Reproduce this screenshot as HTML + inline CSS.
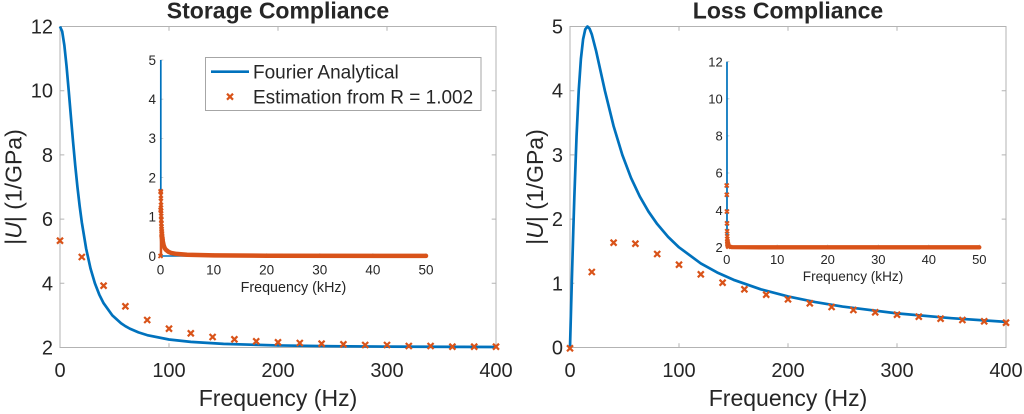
<!DOCTYPE html>
<html>
<head>
<meta charset="utf-8">
<style>
  html,body{margin:0;padding:0;background:#fff;}
  svg{display:block;}
  text{font-family:"Liberation Sans",Arial,sans-serif;fill:#262626;}
</style>
</head>
<body>
<svg width="1024" height="414" viewBox="0 0 1024 414" xmlns="http://www.w3.org/2000/svg">
  <rect x="0" y="0" width="1024" height="414" fill="#fff"/>

  <!-- ================= LEFT PLOT ================= -->
  <g fill="none" stroke="#b3b3b3" stroke-width="1">
    <rect x="60" y="26.5" width="436" height="321"/>
    <path d="M169,347.5V343.2M278,347.5V343.2M387,347.5V343.2M169,26.5V30.8M278,26.5V30.8M387,26.5V30.8
             M60,90.7H64.3M60,154.9H64.3M60,219.1H64.3M60,283.3H64.3
             M496,90.7H491.7M496,154.9H491.7M496,219.1H491.7M496,283.3H491.7"/>
  </g>

  <!-- left inset axes -->
  <g fill="none" stroke="#c0c0c0" stroke-width="0.8">
    <path d="M160.5,60V256H426"/>
    <path d="M160.5,99.2H163.3M160.5,138.4H163.3M160.5,177.6H163.3M160.5,216.8H163.3M160.5,60H163.3
             M213.6,256V253.2M266.7,256V253.2M319.8,256V253.2M372.9,256V253.2M426,256V253.2"/>
  </g>
  <g font-size="13.5" text-anchor="end">
    <text x="156" y="64.8">5</text>
    <text x="156" y="104">4</text>
    <text x="156" y="143.2">3</text>
    <text x="156" y="182.4">2</text>
    <text x="156" y="221.6">1</text>
    <text x="156" y="260.8">0</text>
  </g>
  <g font-size="13.5" text-anchor="middle">
    <text x="160.5" y="274.5">0</text>
    <text x="213.6" y="274.5">10</text>
    <text x="266.7" y="274.5">20</text>
    <text x="319.8" y="274.5">30</text>
    <text x="372.9" y="274.5">40</text>
    <text x="426" y="274.5">50</text>
  </g>
  <text x="293.5" y="292" font-size="14.3" text-anchor="middle">Frequency (kHz)</text>
  <!-- left inset series -->
  <path d="M160.8,256V60" stroke="#0072BD" stroke-width="1.7" fill="none"/>
  <path d="M160.8,256H426" stroke="#0072BD" stroke-width="1.5" fill="none"/>
  <path d="M161,256V192" stroke="#D95319" stroke-width="2.5" fill="none"/>
  <polyline fill="none" stroke="#D95319" stroke-width="4.5" stroke-linejoin="round" stroke-linecap="round"
    points="161.5,236 162.6,240.3 163.7,245.5 164.75,248.2 165.8,249.7 168.5,251.8 171.1,252.9 176.4,253.9 187.1,254.7 213.6,255.4 266.7,255.7 426,255.9"/>
  <g stroke="#D95319" stroke-width="1.8" fill="none">
    <path d="M158.5,254l4,4m0,-4l-4,4
             M158.6,207.7l4,4m0,-4l-4,4
             M158.7,189.3l4,4m0,-4l-4,4
             M158.8,190.1l4,4m0,-4l-4,4
             M158.9,196.4l4,4m0,-4l-4,4
             M159,203l4,4m0,-4l-4,4
             M159.1,208.9l4,4m0,-4l-4,4
             M159.2,214l4,4m0,-4l-4,4
             M159.3,217.9l4,4m0,-4l-4,4
             M159.4,221.5l4,4m0,-4l-4,4
             M159.5,224.6l4,4m0,-4l-4,4
             M159.6,227l4,4m0,-4l-4,4
             M159.7,229.3l4,4m0,-4l-4,4
             M159.8,231.3l4,4m0,-4l-4,4
             M159.9,232.4l4,4m0,-4l-4,4
             M160,234l4,4m0,-4l-4,4
             M160.1,235.2l4,4m0,-4l-4,4
             M160.2,236.4l4,4m0,-4l-4,4
             M160.3,237.1l4,4m0,-4l-4,4
             M160.4,237.9l4,4m0,-4l-4,4
             M160.5,238.7l4,4m0,-4l-4,4"/>
  </g>

  <!-- left main series -->
  <polyline fill="none" stroke="#0072BD" stroke-width="2.7" stroke-linejoin="round"
    points="60,26.5 62.18,31.44 64.36,45.38 66.54,66.08 68.72,90.7 70.9,116.67 73.08,142.06 75.26,165.69 77.44,187 79.62,205.82 81.8,222.23 86.16,248.73 90.52,268.48 94.88,283.3 99.24,294.55 103.6,303.22 112.32,315.4 121.04,323.27 125.4,326.19 129.76,328.62 138.48,332.39 147.2,335.15 169,339.49 190.8,341.89 223.5,343.89 278,345.46 332.5,346.19 387,346.59 496,346.99"/>
  <g stroke="#D95319" stroke-width="2.2" fill="none">
    <path d="M57,237.7l6,6m0,-6l-6,6
             M78.8,254l6,6m0,-6l-6,6
             M100.6,282.7l6,6m0,-6l-6,6
             M122.4,303.3l6,6m0,-6l-6,6
             M144.2,317l6,6m0,-6l-6,6
             M166,325.7l6,6m0,-6l-6,6
             M187.8,330.3l6,6m0,-6l-6,6
             M209.6,334l6,6m0,-6l-6,6
             M231.4,336.3l6,6m0,-6l-6,6
             M253.2,338.3l6,6m0,-6l-6,6
             M275,339.3l6,6m0,-6l-6,6
             M296.8,340l6,6m0,-6l-6,6
             M318.6,340.7l6,6m0,-6l-6,6
             M340.4,341.3l6,6m0,-6l-6,6
             M362.2,342l6,6m0,-6l-6,6
             M384,342l6,6m0,-6l-6,6
             M405.8,343l6,6m0,-6l-6,6
             M427.6,343l6,6m0,-6l-6,6
             M449.4,343.7l6,6m0,-6l-6,6
             M471.2,343.7l6,6m0,-6l-6,6
             M493,343.7l6,6m0,-6l-6,6"/>
  </g>

  <!-- legend -->
  <rect x="205.5" y="57.5" width="275.5" height="53" fill="#fff" stroke="#a6a6a6" stroke-width="1"/>
  <path d="M211,71.7H249" stroke="#0072BD" stroke-width="2.7"/>
  <path d="M227,93.7l6,6m0,-6l-6,6" stroke="#D95319" stroke-width="2.2" fill="none"/>
  <text x="253" y="78.6" font-size="19">Fourier Analytical</text>
  <text x="253" y="103.6" font-size="19">Estimation from R = 1.002</text>

  <!-- left tick labels -->
  <g font-size="20" text-anchor="end">
    <text x="53" y="33.5">12</text>
    <text x="53" y="97.7">10</text>
    <text x="53" y="161.9">8</text>
    <text x="53" y="226.1">6</text>
    <text x="53" y="290.3">4</text>
    <text x="53" y="354.5">2</text>
  </g>
  <g font-size="20" text-anchor="middle">
    <text x="60" y="377">0</text>
    <text x="169" y="377">100</text>
    <text x="278" y="377">200</text>
    <text x="387" y="377">300</text>
    <text x="496" y="377">400</text>
  </g>
  <text x="278" y="406" font-size="23" text-anchor="middle">Frequency (Hz)</text>
  <text transform="translate(21.5,187) rotate(-90)" font-size="23" text-anchor="middle">|<tspan font-style="italic">U</tspan>| (1/GPa)</text>
  <text x="278" y="18.5" font-size="23" font-weight="bold" text-anchor="middle" fill="#000">Storage Compliance</text>

  <!-- ================= RIGHT PLOT ================= -->
  <g fill="none" stroke="#b3b3b3" stroke-width="1">
    <rect x="570" y="26.5" width="436" height="321"/>
    <path d="M679,347.5V343.2M788,347.5V343.2M897,347.5V343.2M679,26.5V30.8M788,26.5V30.8M897,26.5V30.8
             M570,90.7H574.3M570,154.9H574.3M570,219.1H574.3M570,283.3H574.3
             M1006,90.7H1001.7M1006,154.9H1001.7M1006,219.1H1001.7M1006,283.3H1001.7"/>
  </g>

  <!-- right inset axes -->
  <g fill="none" stroke="#c0c0c0" stroke-width="0.8">
    <path d="M726.7,61.7V247.3H979.3"/>
    <path d="M726.7,61.7H729.4M726.7,98.8H729.4M726.7,135.9H729.4M726.7,173H729.4M726.7,210.2H729.4
             M777.2,247.3V244.6M827.7,247.3V244.6M878.3,247.3V244.6M928.8,247.3V244.6M979.3,247.3V244.6"/>
  </g>
  <g font-size="13" text-anchor="end">
    <text x="722.7" y="66.4">12</text>
    <text x="722.7" y="103.5">10</text>
    <text x="722.7" y="140.6">8</text>
    <text x="722.7" y="177.7">6</text>
    <text x="722.7" y="214.9">4</text>
    <text x="722.7" y="252">2</text>
  </g>
  <g font-size="13" text-anchor="middle">
    <text x="726.7" y="263.8">0</text>
    <text x="777.2" y="263.8">10</text>
    <text x="827.7" y="263.8">20</text>
    <text x="878.3" y="263.8">30</text>
    <text x="928.8" y="263.8">40</text>
    <text x="979.3" y="263.8">50</text>
  </g>
  <text x="853" y="281" font-size="13.6" text-anchor="middle">Frequency (kHz)</text>
  <!-- right inset series -->
  <path d="M727,247.3V61.7" stroke="#0072BD" stroke-width="1.7" fill="none"/>
  <path d="M727,247.3H979.3" stroke="#0072BD" stroke-width="1.5" fill="none"/>
  <path d="M727.2,247V238" stroke="#D95319" stroke-width="2.5" fill="none"/>
  <polyline fill="none" stroke="#D95319" stroke-width="4.3" stroke-linejoin="round" stroke-linecap="round"
    points="727.6,242.5 728.3,245.3 729.5,246.6 732,247.1 760,247.3 979.3,247.3"/>
  <g stroke="#D95319" stroke-width="1.8" fill="none">
    <path d="M724.7,183.5l4,4m0,-4l-4,4
             M724.8,192.8l4,4m0,-4l-4,4
             M724.9,209.5l4,4m0,-4l-4,4
             M725,221.4l4,4m0,-4l-4,4
             M725.1,229.3l4,4m0,-4l-4,4
             M725.2,234.3l4,4m0,-4l-4,4
             M725.3,237l4,4m0,-4l-4,4
             M725.4,239.2l4,4m0,-4l-4,4
             M725.5,240.5l4,4m0,-4l-4,4
             M725.6,241.6l4,4m0,-4l-4,4
             M725.7,242.1l4,4m0,-4l-4,4
             M725.8,242.5l4,4m0,-4l-4,4
             M725.9,243.1l4,4m0,-4l-4,4
             M726,243.4l4,4m0,-4l-4,4
             M726.1,243.8l4,4m0,-4l-4,4
             M726.2,244.4l4,4m0,-4l-4,4
             M726.4,244.7l4,4m0,-4l-4,4"/>
  </g>

  <!-- right main series -->
  <polyline fill="none" stroke="#0072BD" stroke-width="2.7" stroke-linejoin="round"
    points="570,347.5 571.09,307.53 572.18,268.48 573.27,231.21 574.36,196.44 576.54,136.43 578.72,90.7 580.9,58.96 583.08,39.34 585.26,29.34 587.44,26.5 589.62,28.71 591.8,34.33 596.16,51.19 600.52,70.95 604.88,90.7 613.6,126.12 622.32,154.9 631.04,177.92 639.76,196.44 648.48,211.55 657.2,224.04 668.1,236.86 679,247.34 700.8,263.4 717.15,272.46 733.5,279.79 760.75,289.29 788,296.47 815.25,302.08 842.5,306.58 897,313.36 951.5,318.21 1006,321.86"/>
  <g stroke="#D95319" stroke-width="2.2" fill="none">
    <path d="M567,345.3l6,6m0,-6l-6,6
             M588.8,269l6,6m0,-6l-6,6
             M610.6,239.7l6,6m0,-6l-6,6
             M632.4,240.7l6,6m0,-6l-6,6
             M654.2,251l6,6m0,-6l-6,6
             M676,261.7l6,6m0,-6l-6,6
             M697.8,271.3l6,6m0,-6l-6,6
             M719.6,279.7l6,6m0,-6l-6,6
             M741.4,286.3l6,6m0,-6l-6,6
             M763.2,291.7l6,6m0,-6l-6,6
             M785,296.3l6,6m0,-6l-6,6
             M806.8,300.3l6,6m0,-6l-6,6
             M828.6,304l6,6m0,-6l-6,6
             M850.4,307l6,6m0,-6l-6,6
             M872.2,309.3l6,6m0,-6l-6,6
             M894,311.7l6,6m0,-6l-6,6
             M915.8,313.7l6,6m0,-6l-6,6
             M937.6,315.7l6,6m0,-6l-6,6
             M959.4,317l6,6m0,-6l-6,6
             M981.2,318.3l6,6m0,-6l-6,6
             M1003,319.7l6,6m0,-6l-6,6"/>
  </g>

  <!-- right tick labels -->
  <g font-size="20" text-anchor="end">
    <text x="563" y="33.5">5</text>
    <text x="563" y="97.7">4</text>
    <text x="563" y="161.9">3</text>
    <text x="563" y="226.1">2</text>
    <text x="563" y="290.3">1</text>
    <text x="563" y="354.5">0</text>
  </g>
  <g font-size="20" text-anchor="middle">
    <text x="570" y="377">0</text>
    <text x="679" y="377">100</text>
    <text x="788" y="377">200</text>
    <text x="897" y="377">300</text>
    <text x="1006" y="377">400</text>
  </g>
  <text x="788" y="406" font-size="23" text-anchor="middle">Frequency (Hz)</text>
  <text transform="translate(543,187) rotate(-90)" font-size="23" text-anchor="middle">|<tspan font-style="italic">U</tspan>| (1/GPa)</text>
  <text x="788" y="18.5" font-size="23" font-weight="bold" text-anchor="middle" fill="#000">Loss Compliance</text>
</svg>
</body>
</html>
